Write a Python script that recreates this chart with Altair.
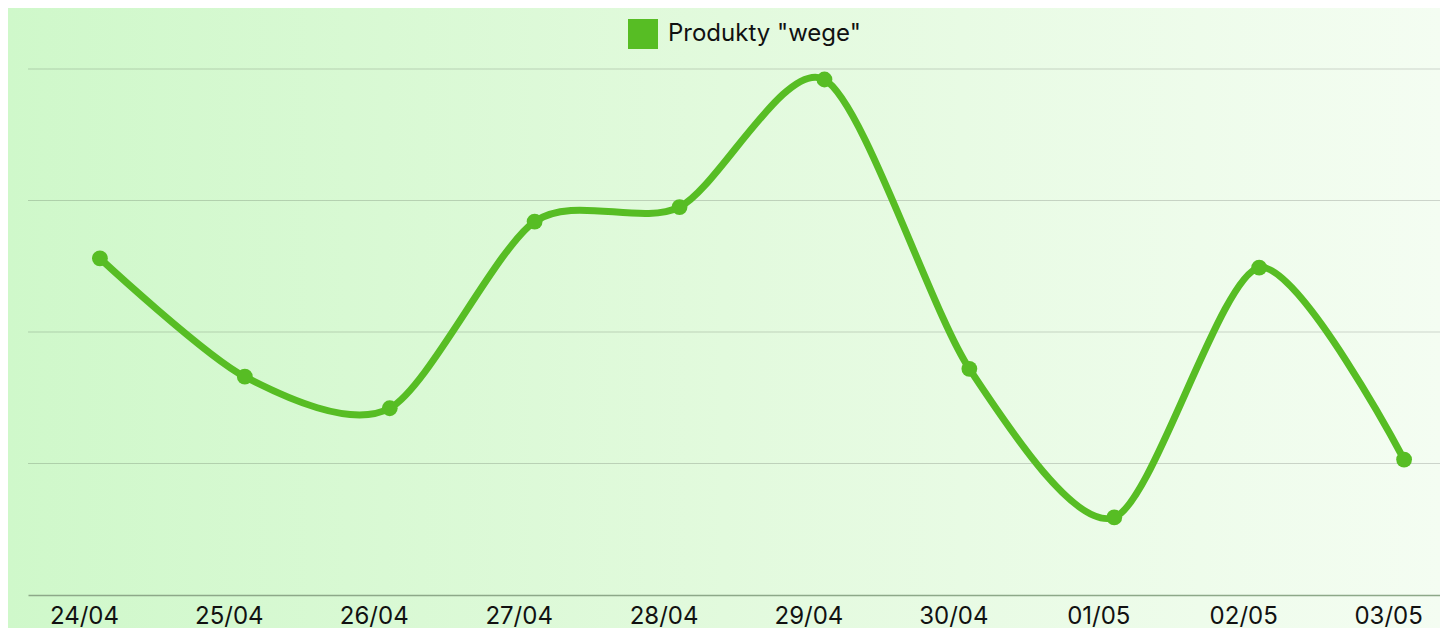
import altair as alt
import pandas as pd

dates = ["24/04", "25/04", "26/04", "27/04", "28/04", "29/04", "30/04", "01/05", "02/05", "03/05"]
values = [25.6, 16.6, 14.2, 28.4, 29.5, 39.2, 17.2, 5.9, 24.9, 10.3]
series_name = 'Produkty "wege"'
grid_ticks = [10, 20, 30, 40]

W = 1412
H = 526
GREEN = "#57bd24"
FONT = "Inter"

df = pd.DataFrame({"date": dates, "value": values, "series": [series_name] * len(dates)})

xscale = alt.Scale(type="point", padding=0.372, align=0.667)
yscale = alt.Scale(domain=[0, 40])

bg = alt.Chart(pd.DataFrame({"a": [0]})).mark_rect(
    fill=alt.Gradient(
        gradient="linear",
        stops=[
            alt.GradientStop(color="#cff8ca", offset=0),
            alt.GradientStop(color="#e2fadd", offset=0.5),
            alt.GradientStop(color="#f4fdf2", offset=1),
        ],
        x1=0, x2=1, y1=0, y2=0,
    )
).encode(x=alt.value(-20), x2=alt.value(W), y=alt.value(-61), y2=alt.value(H + 33))

grid = alt.Chart(pd.DataFrame({"t": grid_ticks})).mark_rule(
    color="#000000", opacity=0.16, strokeWidth=1
).encode(
    y=alt.Y("t:Q", scale=yscale, axis=None),
    x=alt.value(0),
    x2=alt.value(W),
)

xaxis = alt.Axis(
    title=None,
    grid=False,
    ticks=False,
    domainColor="#8da889",
    domainWidth=1.5,
    labelFont=FONT,
    labelFontSize=24,
    labelColor="#111111",
    labelPadding=9,
    labelOffset=-16,
    labelAngle=0,
    zindex=1,
)

line = alt.Chart(df).mark_line(
    interpolate="cardinal", tension=0.2, strokeWidth=7, color=GREEN
).encode(
    x=alt.X("date:N", sort=dates, scale=xscale, axis=xaxis),
    y=alt.Y("value:Q", scale=yscale, axis=None),
)

points = alt.Chart(df).mark_circle(size=250, opacity=1).encode(
    x=alt.X("date:N", sort=dates, scale=xscale, axis=xaxis),
    y=alt.Y("value:Q", scale=yscale, axis=None),
    color=alt.Color(
        "series:N",
        scale=alt.Scale(range=[GREEN]),
        legend=alt.Legend(
            title=None,
            orient="none",
            legendX=600,
            legendY=-50,
            symbolType="square",
            symbolSize=900,
            symbolStrokeWidth=0,
            symbolOpacity=1,
            labelFont=FONT,
            labelFontSize=24,
            labelColor="#111111",
            labelOffset=10,
            labelLimit=500,
        ),
    ),
)

chart = alt.layer(bg, grid, line, points).properties(
    width=W,
    height=H,
    padding={"left": 20, "top": 61, "right": 0, "bottom": 33},
    autosize=alt.AutoSizeParams(type="none"),
).configure_view(stroke=None).configure(background="#e2fadd")

chart.save("out.html", embed_options={"renderer": "svg", "actions": False})
